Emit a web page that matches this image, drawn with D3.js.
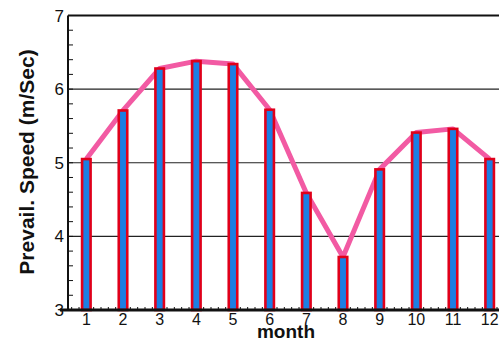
<!DOCTYPE html>
<html>
<head>
<meta charset="utf-8">
<script src="https://cdn.jsdelivr.net/npm/d3@7"></script>
<style>
  html, body { margin: 0; padding: 0; background: #fff; overflow: hidden; }
  svg { display: block; font-family: "Liberation Sans", Arial, sans-serif; }
</style>
</head>
<body>
<div id="chart"></div>
<script>
// Prevailing wind speed by month
const months = [1, 2, 3, 4, 5, 6, 7, 8, 9, 10, 11, 12];
const speeds = [5.05, 5.71, 6.28, 6.38, 6.34, 5.72, 4.59, 3.72, 4.91, 5.41, 5.46, 5.05];
const yTicks = [3, 4, 5, 6, 7];
const gridVals = [4, 5, 6];

(function () {
  const W = 499, H = 342;
  const x0 = 68, x1 = 508, yTop = 15.5, yBot = 310;

  const svg = d3.select("#chart").append("svg")
    .attr("width", W).attr("height", H);

  const x = d3.scaleLinear().domain([0.5, 12.5]).range([x0, x1]);
  const y = d3.scaleLinear().domain([3, 7]).range([yBot, yTop]);

  // Grid lines
  gridVals.forEach(v => {
    svg.append("line")
      .attr("x1", x0).attr("x2", x1)
      .attr("y1", y(v)).attr("y2", y(v))
      .attr("stroke", "#222").attr("stroke-width", 1.2);
  });

  // Top border
  svg.append("line")
    .attr("x1", x0).attr("x2", x1)
    .attr("y1", yTop).attr("y2", yTop)
    .attr("stroke", "#111").attr("stroke-width", 2);

  // Left axis: minor ticks every 0.2, inward
  d3.range(3, 7.001, 0.2).forEach(v => {
    svg.append("line")
      .attr("x1", x0).attr("x2", x0 + 5)
      .attr("y1", y(v)).attr("y2", y(v))
      .attr("stroke", "#111").attr("stroke-width", 1);
  });

  // Bottom axis: minor ticks every 0.2 month, inward
  d3.range(0.6, 12.5, 0.2).forEach(v => {
    svg.append("line")
      .attr("x1", x(v)).attr("x2", x(v))
      .attr("y1", yBot).attr("y2", yBot - 3)
      .attr("stroke", "#111").attr("stroke-width", 1);
  });

  // Line through bar tops
  const line = d3.line().x((d, i) => x(months[i])).y(d => y(d));
  svg.append("path")
    .datum(speeds)
    .attr("d", line)
    .attr("fill", "none")
    .attr("stroke", "#f25aa3")
    .attr("stroke-width", 5)
    .attr("stroke-linejoin", "round");

  // Bars
  const bw = 8.5;
  svg.selectAll("rect.bar")
    .data(speeds)
    .enter().append("rect")
    .attr("class", "bar")
    .attr("x", (d, i) => x(months[i]) - bw / 2)
    .attr("y", d => y(d))
    .attr("width", bw)
    .attr("height", d => yBot - y(d))
    .attr("fill", "#1b7fe3")
    .attr("stroke", "#e0001a")
    .attr("stroke-width", 2.6);

  // Axis lines
  svg.append("line")
    .attr("x1", x0).attr("x2", x0)
    .attr("y1", yTop).attr("y2", yBot)
    .attr("stroke", "#111").attr("stroke-width", 2);
  svg.append("line")
    .attr("x1", x0 - 8).attr("x2", x1)
    .attr("y1", yBot).attr("y2", yBot)
    .attr("stroke", "#111").attr("stroke-width", 3);

  // Y tick labels
  yTicks.forEach(v => {
    svg.append("text")
      .attr("x", 64).attr("y", y(v) + 6)
      .attr("text-anchor", "end")
      .attr("font-size", "17px").attr("fill", "#111")
      .text(v);
  });

  // X tick labels
  months.forEach(m => {
    svg.append("text")
      .attr("x", x(m)).attr("y", 325)
      .attr("text-anchor", "middle")
      .attr("font-size", "16px").attr("fill", "#111")
      .text(m);
  });

  // Axis titles
  svg.append("text")
    .attr("x", 286).attr("y", 338)
    .attr("text-anchor", "middle")
    .attr("font-size", "19px").attr("font-weight", "bold").attr("fill", "#111")
    .text("month");

  svg.append("text")
    .attr("transform", "translate(34,162) rotate(-90)")
    .attr("text-anchor", "middle")
    .attr("font-size", "21px").attr("font-weight", "bold").attr("fill", "#111")
    .text("Prevail. Speed (m/Sec)");
})();
</script>
</body>
</html>
